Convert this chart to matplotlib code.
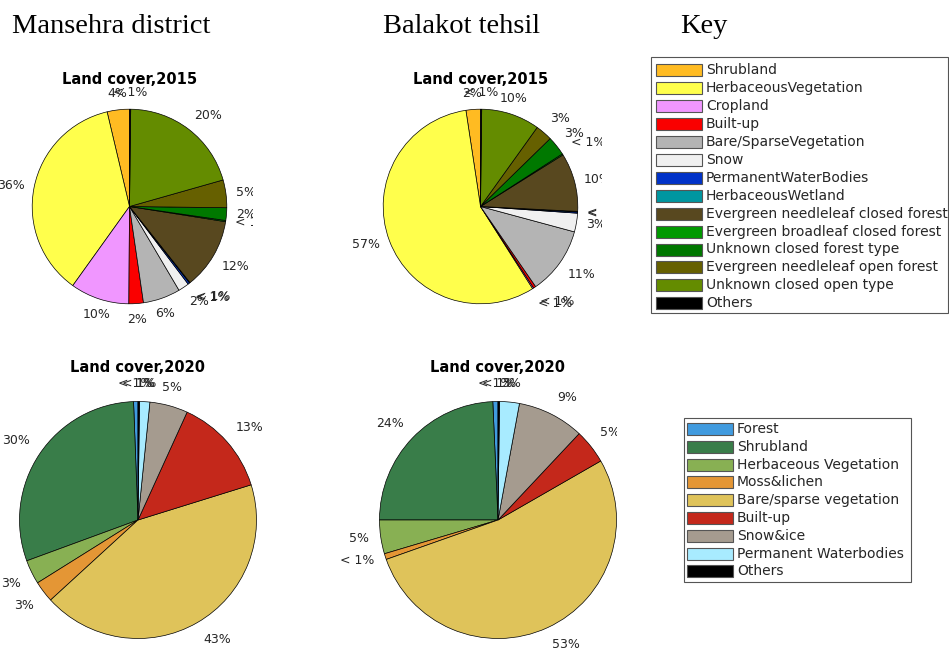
import matplotlib
matplotlib.use('Agg')
import matplotlib.pyplot as plt
from matplotlib.patches import Rectangle
import numpy as np

W, H = 949, 653

# 2015 classes (Copernicus style)
classes_2015 = ['Shrubland', 'HerbaceousVegetation', 'Cropland', 'Built-up',
                'Bare/SparseVegetation', 'Snow', 'PermanentWaterBodies',
                'HerbaceousWetland', 'Evergreen needleleaf closed forest',
                'Evergreen broadleaf closed forest', 'Unknown closed forest type',
                'Evergreen needleleaf open forest', 'Unknown closed open type', 'Others']
colors_2015 = ['#FFBB22', '#FFFF4C', '#F096FF', '#FA0000', '#B4B4B4', '#F0F0F0',
               '#0032C8', '#0096A0', '#58481F', '#009900', '#007800', '#666000',
               '#648C00', '#000000']
mansehra_2015 = [3.7, 36.4, 9.8, 2.4, 6.2, 1.8, 0.3, 0.1, 11.8, 0.2, 2.1, 4.6, 20.4, 0.2]
balakot_2015 = [2.4, 56.6, 0.2, 0.4, 11.2, 3.1, 0.2, 0.1, 9.7, 0.2, 3.2, 2.8, 9.7, 0.2]

# 2020 classes
classes_2020 = ['Forest', 'Shrubland', 'Herbaceous Vegetation', 'Moss&lichen',
                'Bare/sparse vegetation', 'Built-up', 'Snow&ice',
                'Permanent Waterbodies', 'Others']
colors_2020 = ['#419BDF', '#397D49', '#88B053', '#E49635', '#DFC35A', '#C4281B',
               '#A59B8F', '#A8EBFF', '#000000']
mansehra_2020 = [0.6, 30.0, 3.3, 2.9, 43.0, 13.4, 5.2, 1.4, 0.2]
balakot_2020 = [0.7, 24.3, 4.6, 0.8, 52.9, 4.7, 9.1, 2.7, 0.2]

LABEL_R = 1.1
# alignment per 45 degree sector, sector 0 = pointing right
HA = ['left', 'left', 'center', 'right', 'right', 'right', 'center', 'left']
VA = ['center', 'bottom', 'bottom', 'bottom', 'center', 'top', 'top', 'top']


def pct_label(p):
    if p < 1:
        return '< 1%'
    return f'{p:.0f}%'


fig = plt.figure(figsize=(W / 100, H / 100), dpi=100)

# overlay in pixel coordinates for headers, titles and keys
ov = fig.add_axes([0, 0, 1, 1])
ov.set_xlim(0, W)
ov.set_ylim(H, 0)
ov.axis('off')


def draw_pie(vals, cols, box, cx, cy, r, title, title_y):
    x0, y0, x1, y1 = box
    ax = fig.add_axes([x0 / W, 1 - y1 / H, (x1 - x0) / W, (y1 - y0) / H])
    wedges, _ = ax.pie(vals, colors=cols, startangle=90, counterclock=True,
                       wedgeprops=dict(edgecolor='k', linewidth=0.5))
    total = sum(vals)
    for w, v in zip(wedges, vals):
        ang = (w.theta1 + w.theta2) / 2
        sec = int(np.round(ang / 45.0)) % 8
        a = np.deg2rad(ang)
        ax.text(LABEL_R * np.cos(a), LABEL_R * np.sin(a), pct_label(100 * v / total),
                ha=HA[sec], va=VA[sec], fontsize=9, color='#262626', clip_on=True)
    ax.set_aspect('auto')
    ax.set_xlim((x0 - cx) / r, (x1 - cx) / r)
    ax.set_ylim((cy - y1) / r, (cy - y0) / r)
    ov.text(cx, title_y, title, ha='center', va='center',
            fontsize=10.5, fontweight='bold', color='k')
    return ax


draw_pie(mansehra_2015, colors_2015, (0, 60, 253, 340), 129.5, 206.5, 97.3,
         'Land cover,2015', 79)
draw_pie(balakot_2015, colors_2015, (340, 60, 602, 340), 480.5, 206.5, 97.3,
         'Land cover,2015', 79)
draw_pie(mansehra_2020, colors_2020, (0, 350, 270, 653), 138, 520, 118.5,
         'Land cover,2020', 367)
draw_pie(balakot_2020, colors_2020, (330, 350, 617, 653), 498, 520, 118.5,
         'Land cover,2020', 367)

# column headers
for x, s in [(12, 'Mansehra district'), (383, 'Balakot tehsil'), (680, 'Key')]:
    ov.text(x, 33, s, ha='left', va='baseline', fontsize=20.5,
            family='Liberation Serif', color='k')


def draw_key(names, cols, box, px, y_first, step):
    bx0, by0, bx1, by1 = box
    ov.add_patch(Rectangle((bx0, by0), bx1 - bx0, by1 - by0, fill=False,
                           edgecolor='#555555', linewidth=0.8))
    for i, (n, c) in enumerate(zip(names, cols)):
        yc = y_first + i * step
        ov.add_patch(Rectangle((px, yc - 6), 46, 12, facecolor=c,
                               edgecolor='#555555', linewidth=0.8))
        ov.text(px + 50, yc, n, ha='left', va='center', fontsize=10,
                color='#262626')


draw_key(classes_2015, colors_2015, (651, 57, 948, 313), 656, 70, 17.95)
draw_key(classes_2020, colors_2020, (684, 418, 911, 582), 687, 429, 17.8)

fig.savefig('out.png', dpi=100)
